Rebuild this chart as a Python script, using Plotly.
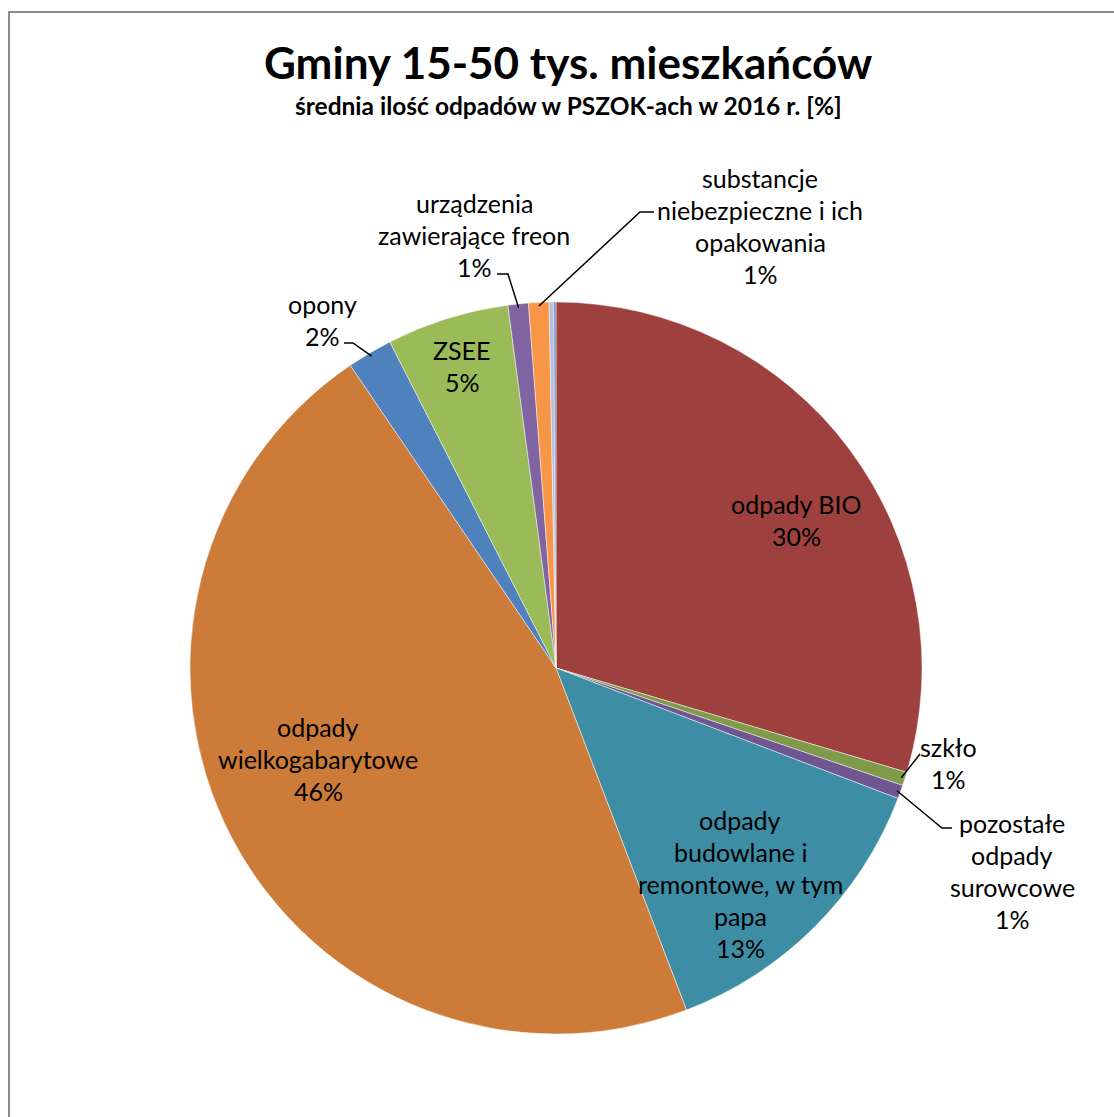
import math
import plotly.graph_objects as go

W, H = 1114, 1117

# ---------------- data ----------------
categories = [
    "odpady BIO",
    "szkło",
    "pozostałe odpady surowcowe",
    "odpady budowlane i remontowe, w tym papa",
    "odpady wielkogabarytowe",
    "opony",
    "ZSEE",
    "urządzenia zawierające freon",
    "substancje niebezpieczne i ich opakowania",
    "inne (a)",
    "inne (b)",
]
values = [29.6, 0.6, 0.6, 13.4, 46.3, 2.0, 5.4, 0.9, 0.9, 0.2, 0.1]
label_lines = [
    ["odpady BIO"],
    ["szkło"],
    ["pozostałe", "odpady", "surowcowe"],
    ["odpady", "budowlane i", "remontowe, w tym", "papa"],
    ["odpady", "wielkogabarytowe"],
    ["opony"],
    ["ZSEE"],
    ["urządzenia", "zawierające freon"],
    ["substancje", "niebezpieczne i ich", "opakowania"],
    None,
    None,
]
title_text = "Gminy 15-50 tys. mieszkańców"
subtitle_text = "średnia ilość odpadów w PSZOK-ach w 2016 r. [%]"

# ---------------- style ----------------
colors = ["#9D403E", "#7F9A48", "#6F5690", "#3D8EA5", "#CC7B38", "#4F81BD",
          "#9BBB59", "#8064A2", "#F79646", "#B3BEDD", "#7488C0"]
FONT = "Lato"
CX, CY, R = 556, 668, 366          # pie centre / radius in px
LINE_H = 32                          # label line spacing px
LABEL_SIZE = 25
# label text centre x, first-line centre y (px)
label_pos = {
    0: (796, 504), 1: (948, 747), 2: (1012, 823), 3: (740, 820),
    4: (318, 727), 5: (322, 304), 6: (462, 350), 7: (474, 203), 8: (760, 178),
}
# leader lines: index -> intermediate points (px)
leaders = {
    1: [(920, 754)],
    2: [(942, 828), (952, 828)],
    5: [(353, 343), (344, 343)],
    7: [(508, 274), (497, 274)],
    8: [(640, 212), (654, 212)],
}


def px(x):
    return x / W


def py(y):
    return 1 - y / H


fig = go.Figure(go.Pie(
    labels=categories, values=values, sort=False, direction="clockwise",
    rotation=0, textinfo="none", hoverinfo="label+percent",
    marker=dict(colors=colors, line=dict(color="rgba(255,255,255,0.6)", width=0.8)),
    domain=dict(x=[px(CX - R), px(CX + R)], y=[py(CY + R), py(CY - R)]),
    showlegend=False,
))

total = sum(values)
annotations = []
for i, lines in enumerate(label_lines):
    if lines is None:
        continue
    pct = f"{round(values[i] / total * 100)}%"
    all_lines = lines + [pct]
    x0, y0 = label_pos[i]
    for k, t in enumerate(all_lines):
        annotations.append(dict(
            x=px(x0), y=py(y0 + k * LINE_H), xref="paper", yref="paper",
            text=t, showarrow=False, xanchor="center", yanchor="middle",
            font=dict(family=FONT, size=LABEL_SIZE, color="#000000"),
        ))

annotations.append(dict(x=px(568), y=py(62), xref="paper", yref="paper",
                        text=f"<b>{title_text}</b>", showarrow=False,
                        xanchor="center", yanchor="middle",
                        font=dict(family=FONT, size=44, color="#000000")))
annotations.append(dict(x=px(568), y=py(105), xref="paper", yref="paper",
                        text=f"<b>{subtitle_text}</b>", showarrow=False,
                        xanchor="center", yanchor="middle",
                        font=dict(family=FONT, size=24.5, color="#000000")))

shapes = []
cum = 0.0
mids = []
for v in values:
    mids.append((cum + v / 2) / total * 2 * math.pi)
    cum += v
for i, pts in leaders.items():
    a = mids[i]
    sx = CX + R * 0.99 * math.sin(a)
    sy = CY - R * 0.99 * math.cos(a)
    path_pts = [(sx, sy)] + pts
    d = "M " + " L ".join(f"{px(x):.5f},{py(y):.5f}" for x, y in path_pts)
    shapes.append(dict(type="path", path=d, xref="paper", yref="paper",
                       line=dict(color="#000000", width=1.5)))

shapes.append(dict(type="rect", xref="paper", yref="paper",
                   x0=px(9), x1=1.05, y0=-0.05, y1=py(12),
                   line=dict(color="#8C8C8C", width=2), fillcolor="rgba(0,0,0,0)"))

fig.update_layout(
    width=W, height=H, margin=dict(l=0, r=0, t=0, b=0),
    paper_bgcolor="#FFFFFF", plot_bgcolor="#FFFFFF",
    annotations=annotations, shapes=shapes, showlegend=False,
)

fig.write_html("out.html",
               config={"displayModeBar": False},
               post_script="document.body.style.margin='0';document.documentElement.style.overflow='hidden';")
